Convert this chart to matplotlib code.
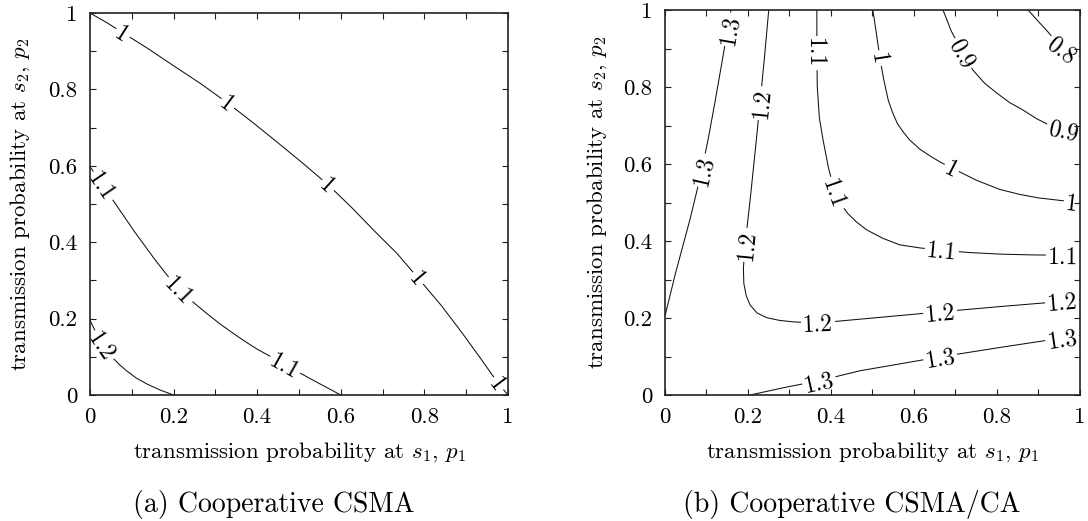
import numpy as np
import matplotlib
matplotlib.use("Agg")
import matplotlib.pyplot as plt
from matplotlib.ticker import MultipleLocator

plt.rcParams["font.family"] = "serif"
plt.rcParams["font.serif"] = ["cmr10"]
plt.rcParams["mathtext.fontset"] = "cm"
plt.rcParams["axes.formatter.use_mathtext"] = True
plt.rcParams["axes.axisbelow"] = False

TICKS = [0, 0.2, 0.4, 0.6, 0.8, 1.0]
TICK_LABELS = ["0", "0.2", "0.4", "0.6", "0.8", "1"]
XLABEL = r"transmission probability at $s_1$, $p_1$"
YLABEL = r"transmission probability at $s_2$, $p_2$"
CAPTIONS = ["(a) Cooperative CSMA", "(b) Cooperative CSMA/CA"]

# ---------------------------------------------------------------- (a) CSMA
# contour lines as (p1, p2), label spots along each line
a10_p1 = [0.0, 0.04, 0.079, 0.14, 0.2, 0.265, 0.33, 0.39, 0.45, 0.51, 0.57,
          0.625, 0.68, 0.735, 0.785, 0.84, 0.89, 0.935, 0.977, 1.0]
a10_p2 = [1.0, 0.975, 0.948, 0.906, 0.862, 0.815, 0.764, 0.713, 0.66, 0.606, 0.55,
          0.492, 0.43, 0.37, 0.306, 0.235, 0.163, 0.095, 0.03, 0.0]
a10_lab = [(0.079, 0.948), (0.33, 0.764), (0.57, 0.55), (0.785, 0.306), (0.977, 0.03)]

a11_p1 = [0.0, 0.031, 0.06, 0.105, 0.155, 0.185, 0.215, 0.25, 0.28, 0.31, 0.342,
          0.37, 0.4, 0.435, 0.467, 0.53, 0.6]
a11_p2 = [0.598, 0.548, 0.502, 0.43, 0.355, 0.313, 0.275, 0.24, 0.213, 0.187, 0.162,
          0.141, 0.12, 0.099, 0.079, 0.041, 0.0]
a11_lab = [(0.031, 0.548), (0.215, 0.275), (0.467, 0.079)]

a12_p1 = [0.0, 0.015, 0.031, 0.055, 0.07, 0.088, 0.11, 0.136, 0.168, 0.2]
a12_p2 = [0.196, 0.162, 0.13, 0.097, 0.08, 0.063, 0.045, 0.029, 0.013, 0.0]
a12_lab = [(0.031, 0.13)]

# ---------------------------------------------------------------- (b) CSMA/CA
b13l_p1 = [0.0, 0.025, 0.06, 0.089, 0.105, 0.12, 0.135, 0.151, 0.159]
b13l_p2 = [0.205, 0.315, 0.455, 0.584, 0.67, 0.758, 0.85, 0.95, 1.0]
b13l_lab = [(0.089, 0.584), (0.151, 0.95)]

b12_p1 = [0.25, 0.24, 0.229, 0.218, 0.206, 0.193, 0.189, 0.19, 0.196, 0.205, 0.222,
          0.245, 0.275, 0.309, 0.369, 0.47, 0.663, 0.81, 0.957, 1.0]
b12_p2 = [1.0, 0.88, 0.758, 0.64, 0.515, 0.39, 0.33, 0.29, 0.257, 0.234, 0.213,
          0.201, 0.194, 0.19, 0.187, 0.197, 0.216, 0.23, 0.243, 0.248]
b12_lab = [(0.229, 0.758), (0.193, 0.39), (0.369, 0.187), (0.663, 0.216), (0.957, 0.243)]

b13b_p1 = [0.205, 0.29, 0.371, 0.47, 0.663, 0.81, 0.957, 1.0]
b13b_p2 = [0.0, 0.02, 0.037, 0.063, 0.099, 0.124, 0.148, 0.155]
b13b_lab = [(0.371, 0.037), (0.663, 0.099), (0.957, 0.148)]

b11_p1 = [0.366, 0.366, 0.367, 0.372, 0.381, 0.394, 0.41, 0.425, 0.44, 0.462, 0.486,
          0.525, 0.566, 0.615, 0.667, 0.735, 0.807, 0.88, 0.959, 1.0]
b11_p2 = [1.0, 0.888, 0.8, 0.72, 0.662, 0.59, 0.524, 0.495, 0.472, 0.449, 0.429,
          0.407, 0.39, 0.382, 0.376, 0.37, 0.366, 0.364, 0.363, 0.363]
b11_lab = [(0.366, 0.888), (0.41, 0.524), (0.667, 0.376), (0.959, 0.363)]

b10_p1 = [0.501, 0.51, 0.518, 0.527, 0.538, 0.548, 0.56, 0.575, 0.59, 0.615, 0.64,
          0.665, 0.691, 0.75, 0.807, 0.855, 0.9, 0.98, 1.0]
b10_p2 = [1.0, 0.935, 0.875, 0.82, 0.766, 0.735, 0.705, 0.682, 0.662, 0.638, 0.62,
          0.604, 0.59, 0.558, 0.534, 0.521, 0.512, 0.502, 0.5]
b10_lab = [(0.518, 0.875), (0.691, 0.59), (0.98, 0.502)]

b09_p1 = [0.67, 0.69, 0.718, 0.742, 0.77, 0.80, 0.83, 0.863, 0.895, 0.928, 0.96, 1.0]
b09_p2 = [1.0, 0.945, 0.888, 0.844, 0.81, 0.784, 0.76, 0.74, 0.718, 0.70, 0.69, 0.683]
b09_lab = [(0.718, 0.888), (0.96, 0.69)]

b08_p1 = [0.875, 0.9, 0.923, 0.958, 1.0]
b08_p2 = [1.0, 0.97, 0.943, 0.898, 0.88]
b08_lab = [(0.958, 0.898)]

panel_a = [("1", a10_p1, a10_p2, a10_lab),
           ("1.1", a11_p1, a11_p2, a11_lab),
           ("1.2", a12_p1, a12_p2, a12_lab)]
panel_b = [("1.3", b13l_p1, b13l_p2, b13l_lab),
           ("1.2", b12_p1, b12_p2, b12_lab),
           ("1.3", b13b_p1, b13b_p2, b13b_lab),
           ("1.1", b11_p1, b11_p2, b11_lab),
           ("1", b10_p1, b10_p2, b10_lab),
           ("0.9", b09_p1, b09_p2, b09_lab),
           ("0.8", b08_p1, b08_p2, b08_lab)]


def label_angle(ax, xs, ys, x0, y0):
    pts = ax.transData.transform(np.column_stack([xs, ys]))
    p = ax.transData.transform((x0, y0))
    i = int(np.argmin(np.hypot(*(pts - p).T)))
    j0, j1 = max(i - 1, 0), min(i + 1, len(xs) - 1)
    dx, dy = pts[j1] - pts[j0]
    ang = np.degrees(np.arctan2(dy, dx))
    if ang > 90:
        ang -= 180
    elif ang <= -90:
        ang += 180
    return ang


def draw_panel(ax, lines):
    ax.set_xlim(0, 1)
    ax.set_ylim(0, 1)
    for txt, xs, ys, labs in lines:
        ax.plot(xs, ys, color="#111111", lw=0.75, zorder=2)
        for x0, y0 in labs:
            ax.text(x0, y0, txt, rotation=label_angle(ax, xs, ys, x0, y0),
                    rotation_mode="anchor", ha="center", va="center_baseline",
                    fontsize=17, zorder=2.2,
                    bbox=dict(boxstyle="square,pad=0.08", fc="white", ec="none"))
    ax.set_xticks(TICKS, TICK_LABELS)
    ax.set_yticks(TICKS, TICK_LABELS)
    ax.xaxis.set_minor_locator(MultipleLocator(0.1))
    ax.yaxis.set_minor_locator(MultipleLocator(0.1))
    ax.tick_params(which="both", direction="in", top=True, right=True,
                   length=4, width=0.8, color="#222222")
    ax.tick_params(which="major", labelsize=16.5, pad=9)
    for sp in ax.spines.values():
        sp.set_linewidth(1.2)
        sp.set_color("#222222")


fig = plt.figure(figsize=(10.88, 5.21), dpi=100)
ax_a = fig.add_axes([0.0827, 0.2418, 0.3842, 0.7332])
ax_b = fig.add_axes([0.6112, 0.2418, 0.3814, 0.7390])

for ax, lines, ylx in ((ax_a, panel_a, -0.168), (ax_b, panel_b, -0.164)):
    draw_panel(ax, lines)
    ax.set_xlabel(XLABEL, fontsize=16.5)
    ax.set_ylabel(YLABEL, fontsize=16.5)
    ax.xaxis.set_label_coords(0.5, -0.149)
    ax.xaxis.label.set_va("center")
    ax.yaxis.set_label_coords(ylx, 0.5)
    ax.yaxis.label.set_va("center")

fig.text(0.252, 0.031, CAPTIONS[0], ha="center", va="center", fontsize=20)
fig.text(0.783, 0.031, CAPTIONS[1], ha="center", va="center", fontsize=20)

fig.savefig("out.png", dpi=100)
